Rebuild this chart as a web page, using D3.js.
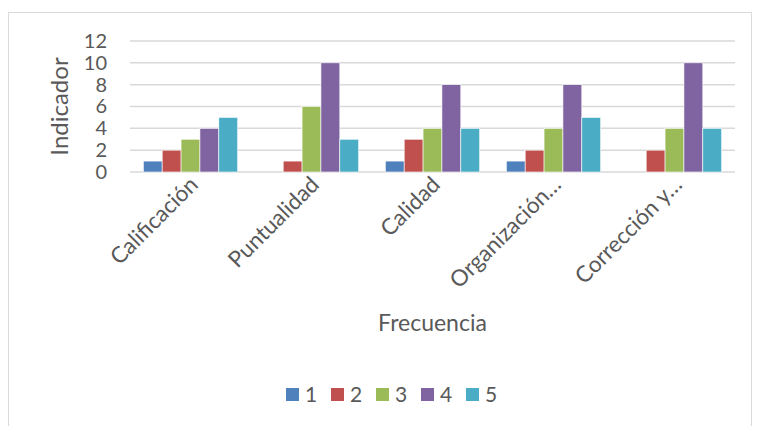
<!DOCTYPE html>
<html>
<head>
<meta charset="utf-8">
<script src="https://d3js.org/d3.v7.min.js"></script>
<style>
  body { margin: 0; background: #fff; }
  text { font-family: "Lato", "Open Sans", sans-serif; fill: #595959; }
</style>
</head>
<body>
<div class="chart"></div>
<script>
var categories = ["Calificación", "Puntualidad", "Calidad", "Organización…", "Corrección y…"];
var seriesNames = ["1", "2", "3", "4", "5"];
var s1 = [1, 0, 1, 1, 0];
var s2 = [2, 1, 3, 2, 2];
var s3 = [3, 6, 4, 4, 4];
var s4 = [4, 10, 8, 8, 10];
var s5 = [5, 3, 4, 5, 4];
var yTicks = [0, 2, 4, 6, 8, 10, 12];
var colors = ["#4F81BD", "#C0504D", "#9BBB59", "#8064A2", "#4BACC6"];

var seriesValues = [s1, s2, s3, s4, s5];

var svgWidth = 759;
var svgHeight = 426;

var margin = { top: 41, right: 24, bottom: 254, left: 130 };
var width = svgWidth - margin.left - margin.right;
var height = svgHeight - margin.top - margin.bottom;

var svg = d3.select(".chart")
  .append("svg")
  .attr("width", svgWidth)
  .attr("height", svgHeight);

// outer chart border
svg.append("rect")
  .attr("x", 8.5)
  .attr("y", 12.5)
  .attr("width", 743)
  .attr("height", 440)
  .attr("fill", "none")
  .attr("stroke", "#D9D9D9")
  .attr("stroke-width", 1);

var chartGroup = svg.append("g")
  .attr("transform", `translate(${margin.left}, ${margin.top})`);

// build rows from arrays
var data = categories.map(function(c, i) {
  return {
    category: c,
    values: seriesNames.map(function(s, j) {
      return { series: s, value: seriesValues[j][i], idx: j };
    })
  };
});

var x0 = d3.scaleBand()
  .domain(categories)
  .range([0, width])
  .paddingInner(0.22)
  .paddingOuter(0.11);

var x1 = d3.scaleBand()
  .domain(seriesNames)
  .range([0, x0.bandwidth()]);

var yLinearScale = d3.scaleLinear()
  .domain([0, 12])
  .range([height, 0]);

// gridlines
chartGroup.append("g")
  .selectAll("line")
  .data(yTicks)
  .enter()
  .append("line")
  .attr("x1", 0)
  .attr("x2", width)
  .attr("y1", d => yLinearScale(d))
  .attr("y2", d => yLinearScale(d))
  .attr("stroke", "#D9D9D9")
  .attr("stroke-width", 1.5);

// y axis labels
var leftAxis = d3.axisLeft(yLinearScale).tickValues(yTicks).tickSize(0).tickPadding(23);
var yAxisG = chartGroup.append("g").call(leftAxis);
yAxisG.select(".domain").remove();
yAxisG.selectAll("text")
  .attr("font-size", "20px")
  .style("font-family", "Lato, sans-serif")
  .attr("fill", "#595959");

// bars
var groups = chartGroup.selectAll(".group")
  .data(data)
  .enter()
  .append("g")
  .attr("class", "group")
  .attr("transform", d => `translate(${x0(d.category)}, 0)`);

groups.selectAll("rect")
  .data(d => d.values)
  .enter()
  .append("rect")
  .attr("x", d => x1(d.series))
  .attr("y", d => yLinearScale(d.value))
  .attr("width", x1.bandwidth())
  .attr("height", d => height - yLinearScale(d.value))
  .attr("fill", d => colors[d.idx])
  .attr("stroke", "#ffffff")
  .attr("stroke-width", 0.6);

// category labels
var xCenter = d3.scaleBand().domain(categories).range([0, width]);
chartGroup.selectAll(".catLabel")
  .data(categories)
  .enter()
  .append("text")
  .attr("class", "catLabel")
  .attr("transform", d => `translate(${xCenter(d) + xCenter.bandwidth() / 2 + 9}, ${height + 14}) rotate(-45)`)
  .attr("text-anchor", "end")
  .attr("font-size", "22.5px")
  .text(d => d);

// axes titles
chartGroup.append("text")
  .attr("transform", "rotate(-90)")
  .attr("y", -62)
  .attr("x", -(height / 2))
  .attr("text-anchor", "middle")
  .attr("font-size", "24px")
  .text("Indicador");

chartGroup.append("text")
  .attr("x", width / 2)
  .attr("y", height + 159)
  .attr("text-anchor", "middle")
  .attr("font-size", "23px")
  .text("Frecuencia");

// legend
var legend = svg.append("g")
  .attr("transform", "translate(286, 388)");

var items = legend.selectAll(".item")
  .data(seriesNames)
  .enter()
  .append("g")
  .attr("class", "item")
  .attr("transform", (d, i) => `translate(${i * 45}, 0)`);

items.append("rect")
  .attr("width", 13)
  .attr("height", 13)
  .attr("fill", (d, i) => colors[i]);

items.append("text")
  .attr("x", 19)
  .attr("y", 14)
  .attr("font-size", "21px")
  .text(d => d);
</script>
</body>
</html>
